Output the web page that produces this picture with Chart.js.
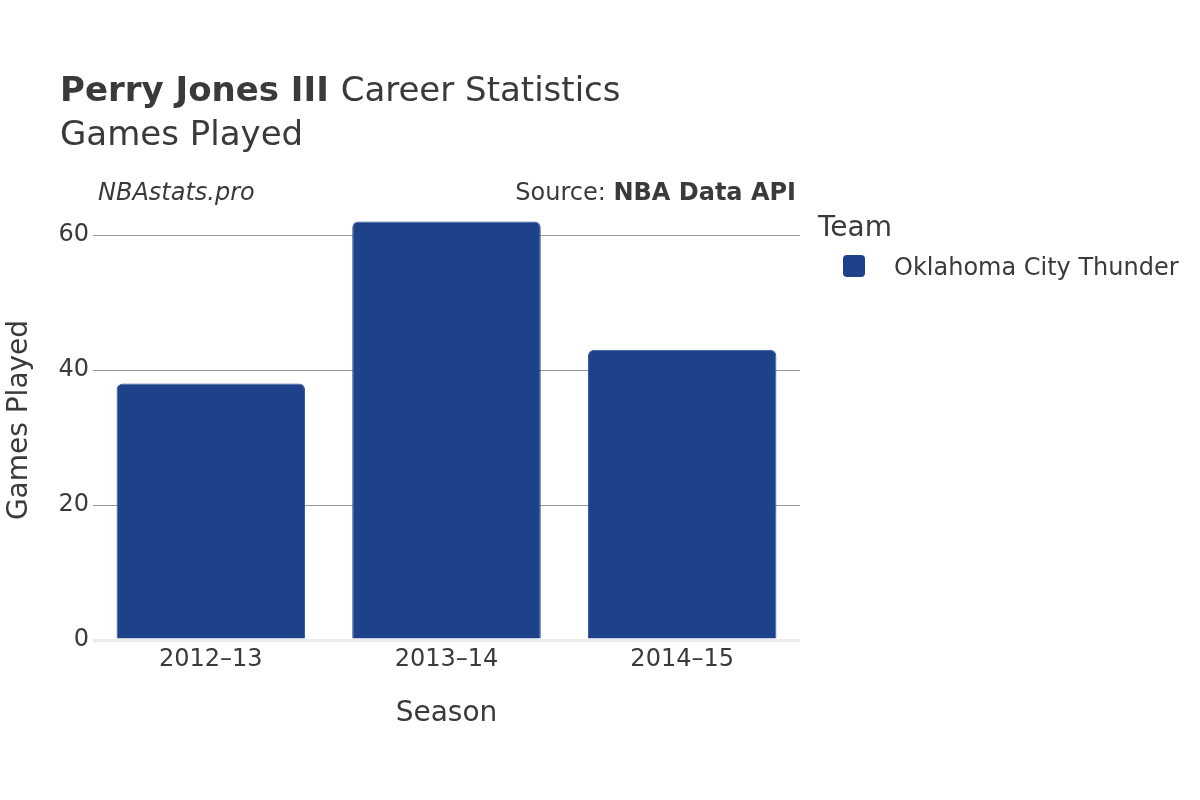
<!DOCTYPE html>
<html>
<head>
<meta charset="utf-8">
<script src="https://cdn.jsdelivr.net/npm/chart.js@4/dist/chart.umd.min.js"></script>
<style>
  html, body { margin: 0; padding: 0; background: #fff; }
  #wrap { width: 1200px; height: 800px; position: relative; }
</style>
</head>
<body>
<div id="wrap"><canvas id="chart" width="1200" height="800"></canvas></div>
<script>
const seasons = ['2012–13', '2013–14', '2014–15'];
const gamesPlayed = [38, 62, 43];
const yTicks = [0, 20, 40, 60];
const teamName = 'Oklahoma City Thunder';
const teamColor = '#1d428a';

const FONT = '"DejaVu Sans", sans-serif';
const TEXT = '#3a3a3a';

// titles, source line, axis titles and legend drawn by hand
const decorations = {
  id: 'decorations',
  afterDraw(chart) {
    const ctx = chart.ctx;
    const area = chart.chartArea;
    ctx.save();
    ctx.fillStyle = TEXT;
    ctx.textBaseline = 'alphabetic';

    ctx.textAlign = 'left';
    ctx.font = 'bold 34px ' + FONT;
    const bold = 'Perry Jones III';
    ctx.fillText(bold, 60, 101);
    const w = ctx.measureText(bold + ' ').width;
    ctx.font = '34px ' + FONT;
    ctx.fillText('Career Statistics', 60 + w, 101);
    ctx.fillText('Games Played', 60, 145);

    ctx.font = 'italic 24px ' + FONT;
    ctx.fillText('NBAstats.pro', 98, 200);

    ctx.textAlign = 'right';
    ctx.font = 'bold 24px ' + FONT;
    const src = 'NBA Data API';
    ctx.fillText(src, 796, 200);
    const sw = ctx.measureText(src).width;
    ctx.font = '24px ' + FONT;
    ctx.fillText('Source: ', 796 - sw, 200);

    // axis titles
    ctx.textAlign = 'center';
    ctx.font = '28px ' + FONT;
    ctx.fillText('Season', (area.left + area.right) / 2, 721);
    ctx.save();
    ctx.translate(27, (area.top + area.bottom) / 2);
    ctx.rotate(-Math.PI / 2);
    ctx.fillText('Games Played', 0, 0);
    ctx.restore();

    // legend
    ctx.textAlign = 'left';
    ctx.font = '28px ' + FONT;
    ctx.fillText('Team', 818, 236);
    ctx.fillStyle = teamColor;
    ctx.beginPath();
    ctx.roundRect(843, 255, 22, 22, 4);
    ctx.fill();
    ctx.fillStyle = TEXT;
    ctx.font = '24px ' + FONT;
    ctx.fillText(teamName, 894, 275);

    ctx.restore();
  }
};

new Chart(document.getElementById('chart').getContext('2d'), {
  type: 'bar',
  data: {
    labels: seasons,
    datasets: [{
      label: teamName,
      data: gamesPlayed,
      backgroundColor: teamColor,
      borderColor: '#2a4f96',
      borderWidth: 1,
      borderSkipped: 'bottom',
      borderRadius: { topLeft: 6, topRight: 6, bottomLeft: 0, bottomRight: 0 },
      categoryPercentage: 1.0,
      barPercentage: 0.8
    }]
  },
  options: {
    responsive: false,
    animation: false,
    layout: { padding: { top: 200, right: 400, bottom: 120, left: 0 } },
    plugins: {
      legend: { display: false },
      tooltip: { enabled: false },
      title: { display: false }
    },
    scales: {
      x: {
        grid: { display: false, drawTicks: false },
        border: { display: false },
        ticks: { color: TEXT, font: { family: FONT, size: 24 }, padding: 5 },
        afterFit(scale) { scale.height = 40; }
      },
      y: {
        min: 0,
        max: 65.2,
        afterBuildTicks(scale) { scale.ticks = yTicks.map(v => ({ value: v })); },
        grid: {
          drawTicks: false,
          color: (c) => c.tick && c.tick.value === 0 ? '#ebebeb' : '#9a9a9a',
          lineWidth: (c) => c.tick && c.tick.value === 0 ? 3 : 1
        },
        border: { display: false },
        ticks: { color: TEXT, font: { family: FONT, size: 24 }, padding: 4 },
        afterFit(scale) { scale.width = 93; }
      }
    }
  },
  plugins: [decorations]
});
</script>
</body>
</html>
